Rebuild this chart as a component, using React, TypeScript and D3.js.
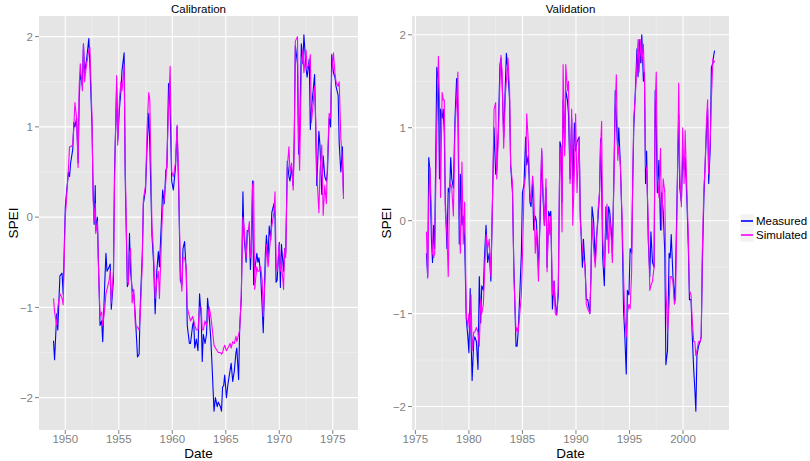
import React from 'react';
import * as d3 from 'd3';

// Calibration period, 1949-1975 (decimal years)
const calDate = [
  1948.9, 1949.0, 1949.2, 1949.3, 1949.5, 1949.7, 1949.8,
  1950.0, 1950.06, 1950.3, 1950.4, 1950.5, 1950.7, 1950.8, 1950.9,
  1951.06, 1951.2, 1951.3, 1951.4, 1951.6, 1951.7, 1951.8,
  1952.0, 1952.2, 1952.3, 1952.5, 1952.6, 1952.7, 1952.8, 1952.85,
  1953.0, 1953.1, 1953.25, 1953.4, 1953.5, 1953.7, 1953.8, 1953.9,
  1954.1, 1954.2, 1954.3, 1954.5, 1954.6, 1954.8, 1954.9,
  1955.06, 1955.2, 1955.3, 1955.5, 1955.6, 1955.8, 1955.9,
  1956.0, 1956.1, 1956.25, 1956.4, 1956.55, 1956.75, 1956.9,
  1957.0, 1957.2, 1957.3, 1957.5, 1957.65, 1957.8, 1957.9,
  1958.1, 1958.25, 1958.4, 1958.55, 1958.7, 1958.8,
  1959.0, 1959.1, 1959.25, 1959.4, 1959.5, 1959.65, 1959.8, 1959.95,
  1960.1, 1960.3, 1960.45, 1960.6, 1960.75, 1960.9,
  1961.0, 1961.15, 1961.3, 1961.4, 1961.6, 1961.7, 1961.9,
  1962.0, 1962.1, 1962.25, 1962.4, 1962.55, 1962.7, 1962.8, 1962.9,
  1963.06, 1963.2, 1963.3, 1963.45, 1963.6, 1963.7, 1963.9,
  1964.03, 1964.2, 1964.3, 1964.5, 1964.6, 1964.7, 1964.8, 1964.9,
  1965.06, 1965.2, 1965.4, 1965.5, 1965.65, 1965.8, 1965.95,
  1966.03, 1966.2, 1966.3, 1966.45, 1966.6, 1966.7, 1966.9,
  1967.0, 1967.2, 1967.3, 1967.4, 1967.5, 1967.6, 1967.7, 1967.9,
  1968.0, 1968.1, 1968.25, 1968.4, 1968.5, 1968.7, 1968.8, 1968.95,
  1969.06, 1969.2, 1969.3, 1969.5, 1969.6, 1969.7, 1969.8,
  1970.0, 1970.1, 1970.2, 1970.4, 1970.5, 1970.6, 1970.75, 1970.9,
  1971.0, 1971.15, 1971.3, 1971.4, 1971.5, 1971.7, 1971.8, 1971.9,
  1972.06, 1972.2, 1972.3, 1972.5, 1972.6, 1972.8, 1972.9,
  1973.0, 1973.2, 1973.3, 1973.4, 1973.5, 1973.7, 1973.8, 1973.97,
  1974.1, 1974.25, 1974.4, 1974.5, 1974.66, 1974.8, 1974.9,
  1975.06, 1975.2, 1975.3, 1975.5, 1975.6, 1975.75, 1975.9, 1976.0,
];

const calMeasured = [
  -1.37, -1.58, -1.07, -1.25, -0.65, -0.62, -0.85,
  0.1, 0.2, 0.5, 0.45, 0.6, 0.75, 1.05, 1.0,
  1.1, 0.6, 1.3, 1.6, 1.45, 1.92, 1.6,
  1.75, 1.98, 1.7, 1.0, 0.3, -0.08, 0.35, -0.15,
  0.0, -0.5, -1.2, -1.15, -1.38, -0.7, -0.4, -0.6,
  -0.55, -0.52, -1.02, -0.7, 0.48, 1.45, 0.85,
  1.2, 1.4, 1.62, 1.82, 0.45, -0.77, -0.7,
  -0.18, -0.6, -0.8, -0.85, -1.1, -1.55, -1.52,
  -1.0, -0.4, 0.15, 0.3, 0.8, 1.15, 0.8,
  -0.2, -0.5, -1.07, -0.6, -0.38, -0.55,
  0.0, 0.3, 0.15, 0.52, 0.55, 1.48, 1.2, 0.4,
  0.3, 0.55, 1.0, 0.3, -0.7, -0.75,
  -0.35, -0.27, -0.6, -1.2, -1.4, -1.4, -1.2,
  -1.15, -1.45, -1.35, -1.48, -0.85, -1.1, -1.6, -1.3,
  -1.4, -1.3, -0.9, -1.1, -1.35, -1.6, -2.15,
  -2.0, -2.1, -2.05, -2.1, -2.15, -1.88, -1.87, -1.75,
  -2.0, -1.85, -1.7, -1.62, -1.82, -1.7, -1.5,
  -1.45, -1.8, -1.22, -0.9, 0.28, -0.2, -0.5,
  -0.15, -0.15, -0.58, -0.3, 0.4, -0.75, -0.6, -0.4,
  -0.5, -0.45, -0.62, -1.0, -1.28, -0.4, -0.2, -0.45,
  -0.1, -0.25, 0.05, 0.15, 0.0, -0.72, -0.7,
  -0.28, -0.78, -0.3, -0.6, -0.35, -0.4, 0.62, 0.45,
  0.4, 0.55, 0.35, 0.9, 1.9, 1.7, 0.7, 0.9,
  1.92, 1.7, 2.02, 1.65, 1.55, 1.75, 0.97,
  1.2, 1.45, 1.58, 1.0, 0.35, 0.95, 0.8, 0.25,
  0.68, 0.45, 0.4, 0.5, 1.1, 1.0, 1.8,
  1.6, 1.55, 1.45, 1.35, 0.82, 0.5, 0.78, 0.25,
];

const calSimulated = [
  -0.9, -1.05, -1.2, -1.0, -0.85, -0.9, -0.97,
  0.0, 0.1, 0.55, 0.78, 0.78, 0.8, 1.0, 1.27,
  1.1, 0.55, 1.45, 1.7, 1.4, 1.92, 1.5,
  1.7, 1.85, 1.88, 1.1, 0.2, -0.05, 0.15, -0.18,
  -0.05, -0.55, -1.1, -1.05, -1.2, -1.0, -0.85, -0.8,
  -0.7, -0.6, -0.95, -0.6, 0.35, 1.57, 0.8,
  1.3, 1.5, 1.4, 1.68, 0.6, -0.7, -0.75,
  -0.4, -0.35, -0.95, -0.8, -1.2, -1.22, -1.25,
  -1.1, -0.5, 0.2, 0.35, 1.0, 1.38, 1.3,
  -0.1, -0.4, -0.9, -0.7, -0.6, -0.9,
  -0.2, 0.1, 0.2, 0.4, 0.65, 1.2, 1.67, 0.5,
  0.45, 0.6, 1.02, 0.4, -0.6, -0.82,
  -0.45, -0.45, -0.55, -1.0, -1.1, -1.15, -1.1,
  -1.15, -1.2, -1.25, -1.25, -1.0, -1.0, -1.25, -1.25,
  -1.15, -1.2, -1.15, -1.0, -1.1, -1.2, -1.42,
  -1.45, -1.48, -1.5, -1.5, -1.52, -1.5, -1.45, -1.42,
  -1.48, -1.45, -1.4, -1.45, -1.38, -1.4, -1.32,
  -1.38, -1.3, -1.25, -0.85, 0.0, -0.1, -0.45,
  -0.25, -0.05, -0.45, -0.35, 0.35, 0.4, -0.8, -0.55,
  -0.6, -0.6, -0.55, -0.7, -1.1, -0.6, -0.3, -0.55,
  -0.4, -0.2, -0.1, 0.05, 0.28, -0.5, -0.6,
  -0.3, -0.6, -0.5, -0.8, -0.35, -0.45, 0.55, 0.78,
  0.5, 0.6, 0.3, 0.8, 1.95, 2.0, 0.9, 0.52,
  1.65, 1.85, 1.6, 1.85, 1.65, 1.7, 1.8,
  1.05, 1.3, 1.45, 1.1, 0.5, 0.05, 0.5, 0.8,
  0.02, 0.35, 0.15, 0.6, 1.15, 1.1, 1.6,
  1.82, 1.6, 1.5, 1.45, 1.5, 0.88, 0.6, 0.2,
];

// Validation period, 1976-2002
const valDate = [
  1976.03, 1976.15, 1976.25, 1976.35, 1976.5, 1976.6, 1976.7, 1976.8,
  1977.0, 1977.15, 1977.25, 1977.35, 1977.5, 1977.6, 1977.7, 1977.8, 1977.95,
  1978.07, 1978.2, 1978.3, 1978.4, 1978.55, 1978.7, 1978.85, 1978.97,
  1979.1, 1979.2, 1979.35, 1979.47, 1979.6, 1979.75, 1979.9,
  1980.0, 1980.12, 1980.2, 1980.3, 1980.45, 1980.55, 1980.7, 1980.85, 1980.97,
  1981.1, 1981.2, 1981.35, 1981.45, 1981.6, 1981.75, 1981.9,
  1982.05, 1982.2, 1982.35, 1982.5, 1982.6, 1982.75, 1982.9,
  1983.0, 1983.1, 1983.25, 1983.4, 1983.5, 1983.65, 1983.8, 1983.9,
  1984.07, 1984.2, 1984.4, 1984.5, 1984.6, 1984.75, 1984.9,
  1985.0, 1985.15, 1985.3, 1985.4, 1985.55, 1985.7, 1985.8, 1985.95,
  1986.05, 1986.2, 1986.3, 1986.5, 1986.65, 1986.8, 1986.9,
  1987.05, 1987.2, 1987.3, 1987.45, 1987.55, 1987.65, 1987.8, 1987.95,
  1988.07, 1988.2, 1988.35, 1988.5, 1988.6, 1988.7, 1988.8, 1988.95,
  1989.05, 1989.2, 1989.3, 1989.45, 1989.6, 1989.7, 1989.85, 1989.97,
  1990.1, 1990.3, 1990.4, 1990.6, 1990.7, 1990.85, 1990.97,
  1991.1, 1991.3, 1991.4, 1991.5, 1991.65, 1991.8, 1991.9,
  1992.05, 1992.2, 1992.3, 1992.4, 1992.5, 1992.65, 1992.8, 1992.9,
  1993.05, 1993.15, 1993.3, 1993.4, 1993.55, 1993.67, 1993.77, 1993.9,
  1994.0, 1994.15, 1994.3, 1994.45, 1994.55, 1994.7, 1994.8, 1994.95,
  1995.06, 1995.2, 1995.3, 1995.4, 1995.55, 1995.7, 1995.8, 1995.9,
  1996.05, 1996.15, 1996.3, 1996.4, 1996.5, 1996.6, 1996.75, 1996.9,
  1997.0, 1997.15, 1997.3, 1997.4, 1997.5, 1997.6, 1997.75, 1997.9,
  1998.0, 1998.15, 1998.3, 1998.4, 1998.55, 1998.7, 1998.8, 1998.9,
  1999.06, 1999.2, 1999.3, 1999.45, 1999.6, 1999.7, 1999.85, 1999.97,
  2000.1, 2000.2, 2000.37, 2000.5, 2000.6, 2000.75, 2000.85,
  2001.0, 2001.1, 2001.2, 2001.3, 2001.45, 2001.6, 2001.7, 2001.8, 2001.95,
  2002.05, 2002.2, 2002.3, 2002.4, 2002.55, 2002.65, 2002.8, 2002.87, 2002.95,
];

const valMeasured = [
  -0.35, -0.6, 0.68, 0.55, -0.2, -0.45, -0.05, -0.3,
  1.65, 1.5, 0.45, 1.2, 1.1, 1.2, 0.95, 0.2, -0.3,
  0.35, 0.3, 0.68, 0.45, 0.35, 1.1, 1.53, 1.2,
  -0.25, 0.5, -0.05, 0.05, -0.2, -1.05, -1.25,
  -1.42, -0.73, -1.25, -1.72, -1.3, -1.25, -1.3, -1.6, -0.6,
  -1.1, -0.7, -0.75, -0.4, -0.05, -0.45, -0.35,
  -0.65, 0.2, 1.0, 0.5, 0.55, 1.0, 1.68,
  1.75, 1.5, 0.9, 1.45, 1.8, 1.6, 1.3, 0.6,
  0.3, -0.5, -1.35, -1.35, -1.2, -0.8, -0.35,
  0.3, 0.4, 0.9, 0.6, 0.7, 0.2, 0.15, 0.4,
  -0.1, 0.05, 0.0, -0.5, 0.0, 0.75, 0.3,
  -0.05, 0.35, -0.5, 0.1, 0.05, 0.1, -0.95, -0.65,
  -0.9, -1.0, -0.8, 0.85, 0.8, 0.2, 1.3, 0.8,
  1.4, 1.3, 1.15, 0.45, 1.1, 0.3, 1.05, 0.75,
  0.85, 0.9, 0.1, -0.5, -0.2, -0.5, -0.85,
  -0.85, -1.0, -0.6, 0.15, 0.0, -0.45, -0.2,
  0.0, 0.3, 0.88, 0.4, -0.4, -0.7, 0.15, -0.2,
  0.15, 0.1, -0.1, -0.35, 0.5, 1.4, 1.1, 0.75,
  1.0, 0.6, 0.0, -0.98, -1.2, -1.65, -0.75, -0.8,
  -0.3, -0.35, 0.4, 1.0, 1.4, 1.85, 1.55, 1.95,
  1.7, 2.0, 1.5, 1.6, 0.4, 0.75, -0.2, -0.6,
  -0.12, -0.45, -0.5, 1.4, 1.0, 0.3, 0.65, -0.1,
  0.3, 0.1, -0.35, -1.55, -1.4, -0.35, -0.4, -0.15,
  -0.6, -0.85, -0.6, 0.3, 1.15, 0.35, 0.2, 0.7,
  0.55, 0.68, 0.2, -0.3, -0.85, -0.85, -1.2,
  -1.6, -1.8, -2.05, -1.45, -1.35, -1.3, -1.25, -0.5, 0.25,
  0.55, 1.0, 1.2, 0.4, 0.8, 1.65, 1.7, 1.78, 1.83,
];

const valSimulated = [
  -0.12, -0.62, 0.2, 0.58, 0.1, -0.35, -0.4, -0.35,
  1.0, 1.77, 1.3, 0.25, 1.38, 1.3, 1.3, 0.1, -0.15,
  -0.6, 0.35, 0.4, 0.35, 0.05, 1.0, 1.3, 1.6,
  0.1, -0.35, 0.63, -0.25, 0.2, -1.0, -1.15,
  -1.0, -1.2, -0.8, -1.4, -1.2, -1.2, -1.15, -1.2, -1.35,
  -0.85, -1.0, -0.9, -0.6, -0.15, -0.3, -0.2,
  -0.6, 0.2, 1.2, 1.27, 0.45, 0.9, 1.5,
  1.78, 1.6, 0.78, 1.35, 1.5, 1.75, 1.4, 0.6,
  0.4, -0.6, -1.2, -1.15, -1.2, -1.0, -0.8,
  -0.4, 0.35, 0.5, 1.15, 0.85, 0.3, 0.2, 0.48,
  0.35, -0.35, -0.1, -0.65, 0.2, 0.78, 0.4,
  -0.05, 0.45, -0.55, 0.05, -0.15, 0.05, -0.8, -0.65,
  -1.0, -1.02, -0.7, 0.8, 0.6, -0.12, 1.68, 0.7,
  1.68, 1.4, 1.5, 0.4, 1.2, -0.05, 0.5, 1.15,
  0.3, 0.9, 0.0, -0.3, -0.4, -0.5, -0.9,
  -0.95, -1.0, -0.6, 0.0, -0.3, -0.5, -0.3,
  0.1, 0.3, 0.8, 1.07, -0.2, -0.5, 0.0, 0.18,
  -0.35, 0.05, -0.2, -0.45, 0.5, 1.2, 1.57, 0.65,
  0.8, 0.6, 0.05, -0.6, -1.0, -1.25, -1.0, -0.9,
  -0.95, -0.55, 0.4, 1.1, 1.35, 1.7, 1.95, 1.6,
  1.95, 1.7, 1.9, 1.5, 0.6, 0.55, 0.0, -0.75,
  -0.7, -0.65, -0.5, 1.25, 1.6, 0.5, 0.25, 0.78,
  -0.1, 0.45, 0.3, -0.7, -1.2, -0.9, -0.6, -0.6,
  -0.65, -0.9, -0.85, 0.2, 1.48, 0.5, 0.15, 1.0,
  0.4, 0.97, 0.3, -0.2, -0.75, -0.8, -1.05,
  -1.3, -1.3, -1.45, -1.4, -1.3, -1.3, -1.25, -0.35, 0.35,
  0.55, 1.1, 1.3, 0.5, 0.9, 1.3, 1.75, 1.7, 1.72,
];

const calYearTicks = [1950, 1955, 1960, 1965, 1970, 1975];
const valYearTicks = [1975, 1980, 1985, 1990, 1995, 2000];
const speiTicks = [-2, -1, 0, 1, 2];
const seriesNames = ['Measured', 'Simulated'];
const seriesColors = ['#0000ff', '#ff00ff'];

const FONT = '"Liberation Sans", Arial, Helvetica, sans-serif';
const TOP = 16;
const BOTTOM = 430;

// ggplot-style 5% expansion around the data extent
const expand = (ext: [number, number]): [number, number] => {
  const pad = (ext[1] - ext[0]) * 0.05;
  return [ext[0] - pad, ext[1] + pad];
};

type PanelProps = {
  title: string;
  dates: number[];
  measured: number[];
  simulated: number[];
  xTicks: number[];
  left: number;
  right: number;
};

const Panel = ({ title, dates, measured, simulated, xTicks, left, right }: PanelProps) => {
  const x = d3.scaleLinear().domain(expand(d3.extent(dates) as [number, number])).range([left, right]);
  const allY = measured.concat(simulated);
  const y = d3.scaleLinear().domain(expand(d3.extent(allY) as [number, number])).range([BOTTOM, TOP]);

  const minorX = xTicks.map(t => t - 2.5).concat([xTicks[xTicks.length - 1] + 2.5])
    .filter(t => x(t) > left && x(t) < right);
  const minorY = [-2.5, -1.5, -0.5, 0.5, 1.5, 2.5].filter(t => y(t) > TOP && y(t) < BOTTOM);

  const line = (vals: number[]) =>
    d3.line<number>()
      .x((_, i) => x(dates[i]))
      .y(d => y(d))(vals) || '';

  const midX = (left + right) / 2;
  const midY = (TOP + BOTTOM) / 2;

  return (
    <g>
      <rect x={left} y={TOP} width={right - left} height={BOTTOM - TOP} fill="#e5e5e5" />
      {minorX.map(t => (
        <line key={'mx' + t} x1={x(t)} x2={x(t)} y1={TOP} y2={BOTTOM} stroke="#f2f2f2" strokeWidth={0.6} />
      ))}
      {minorY.map(t => (
        <line key={'my' + t} x1={left} x2={right} y1={y(t)} y2={y(t)} stroke="#f2f2f2" strokeWidth={0.6} />
      ))}
      {xTicks.map(t => (
        <line key={'gx' + t} x1={x(t)} x2={x(t)} y1={TOP} y2={BOTTOM} stroke="#ffffff" strokeWidth={1.1} />
      ))}
      {speiTicks.map(t => (
        <line key={'gy' + t} x1={left} x2={right} y1={y(t)} y2={y(t)} stroke="#ffffff" strokeWidth={1.1} />
      ))}

      <path d={line(measured)} fill="none" stroke={seriesColors[0]} strokeWidth={1.1} strokeLinejoin="round" />
      <path d={line(simulated)} fill="none" stroke={seriesColors[1]} strokeWidth={1.1} strokeLinejoin="round" />

      {/* x axis */}
      {xTicks.map(t => (
        <g key={'xt' + t}>
          <line x1={x(t)} x2={x(t)} y1={BOTTOM} y2={BOTTOM + 4} stroke="#7f7f7f" />
          <text x={x(t)} y={BOTTOM + 13} textAnchor="middle" fontSize={11.5} fill="#7f7f7f">{t}</text>
        </g>
      ))}
      {/* y axis */}
      {speiTicks.map(t => (
        <g key={'yt' + t}>
          <line x1={left - 4} x2={left} y1={y(t)} y2={y(t)} stroke="#7f7f7f" />
          <text x={left - 6} y={y(t)} dy="0.36em" textAnchor="end" fontSize={11.5} fill="#7f7f7f">
            {t < 0 ? '\u2212' + Math.abs(t) : t}
          </text>
        </g>
      ))}

      <text x={midX} y={12.5} textAnchor="middle" fontSize={11.5} fill="#000">{title}</text>
      <text x={midX} y={457.5} textAnchor="middle" fontSize={13.5} fill="#000">Date</text>
      <text transform={`translate(${left - 21},${midY}) rotate(-90)`} textAnchor="middle" fontSize={13.5} fill="#000">SPEI</text>
    </g>
  );
};

const Legend = ({ x, y }: { x: number; y: number }) => (
  <g transform={`translate(${x},${y})`}>
    {seriesNames.map((name, i) => (
      <g key={name} transform={`translate(0,${i * 14})`}>
        <rect x={0} y={0} width={14} height={14} fill="#f2f2f2" stroke="#ffffff" strokeWidth={0.5} />
        <line x1={1} x2={13} y1={7} y2={7} stroke={seriesColors[i]} strokeWidth={1.6} />
        <text x={16} y={11.3} fontSize={11.5} fill="#000">{name}</text>
      </g>
    ))}
  </g>
);

export default function App() {
  return (
    <svg
      width={810}
      height={461}
      style={{ position: 'absolute', left: 0, top: 0, background: '#fff', fontFamily: FONT }}
    >
      <rect width={810} height={461} fill="#ffffff" />
      <Panel
        title="Calibration"
        dates={calDate}
        measured={calMeasured}
        simulated={calSimulated}
        xTicks={calYearTicks}
        left={39}
        right={358}
      />
      <Panel
        title="Validation"
        dates={valDate}
        measured={valMeasured}
        simulated={valSimulated}
        xTicks={valYearTicks}
        left={412}
        right={729}
      />
      <Legend x={740} y={214} />
    </svg>
  );
}
